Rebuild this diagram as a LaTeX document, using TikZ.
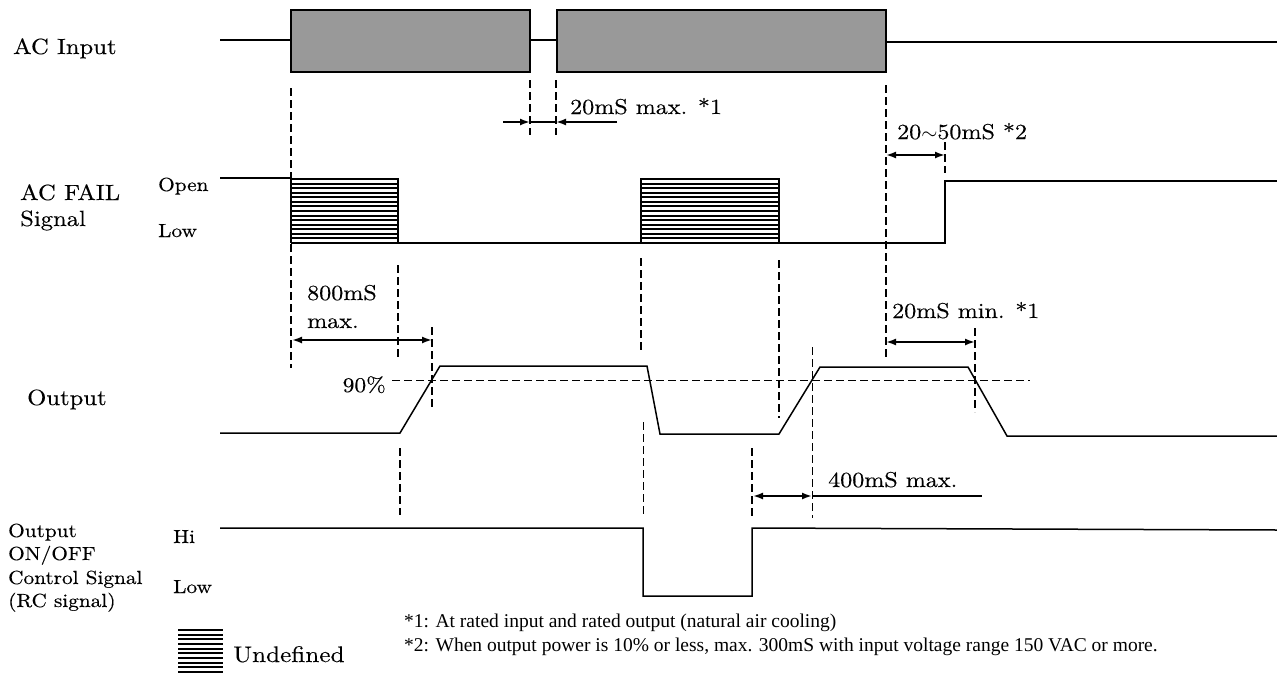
\documentclass[tikz,border=0pt]{standalone}
\usepackage{fontspec}
\newfontfamily\notefont{Liberation Serif}
\newfontfamily\cent{lmroman10-regular}[Extension=.otf, FakeStretch=1.12, FakeBold=0.3]
\usetikzlibrary{arrows.meta}
\begin{document}
\begin{tikzpicture}[x=1pt,y=-1pt,
  >={Latex[length=10pt,width=7pt]},
  wave/.style={line width=1.5pt, line join=miter},
  vdash/.style={line width=1.8pt, dash pattern=on 8pt off 4pt},
  tdash/.style={line width=0.8pt, dash pattern=on 8pt off 4pt},
  dimln/.style={line width=1.8pt},
  hatchln/.style={line width=2pt},
  big/.style={anchor=base west, inner sep=0pt, font=\cent\fontsize{22}{26}\selectfont},
  mid/.style={anchor=base west, inner sep=0pt, font=\cent\fontsize{19}{23}\selectfont},
  tm/.style={anchor=base west, inner sep=0pt, font=\cent\fontsize{21.5}{28}\selectfont},
  note/.style={anchor=base west, inner sep=0pt, font=\notefont\fontsize{19.5}{20}\selectfont},
  acbox/.style={draw=black, line width=1.2pt, fill=black!40},
  ]
\useasboundingbox (0,0) rectangle (1277,675);

% ---------- AC input ----------
\node[big] (lacin) at (13,54) {AC Input};
\draw[wave] (220,40) -- (291,40);
\draw[acbox] (291,10) rectangle (530,72);
\draw[wave] (530,40) -- (557,40);
\draw[acbox] (557,10) rectangle (886,72);
\draw[wave] (886,42) -- (1277,42);

% ---------- AC FAIL ----------
\node[big] (lfail1) at (20,200) {AC FAIL};
\node[big] (lfail2) at (20,226) {Signal};
\node[mid] (lopen) at (158,191) {Open};
\node[mid] (llow1) at (158,237) {Low};
\draw[wave] (220,178) -- (291,178);
\foreach \k in {0,...,14}{
  \draw[hatchln] (291,{179+\k*4.57}) -- (398,{179+\k*4.57});
  \draw[hatchln] (641,{179+\k*4.57}) -- (779,{179+\k*4.57});
}
\draw[wave] (291,178) -- (291,243) (398,178) -- (398,243);
\draw[wave] (641,178) -- (641,243) (779,178) -- (779,243);
\draw[wave] (398,243) -- (641,243);
\draw[wave] (779,243) -- (945,243) -- (945,181) -- (1277,181);

% ---------- Output ----------
\node[big] (lout) at (27,405) {Output};
\draw[wave] (220,433) -- (400,433) -- (440,366) -- (647,366) -- (660,434)
  -- (779,434) -- (820,367) -- (968,367) -- (1007,436) -- (1277,436);
\draw[tdash] (392,380) -- (1030,380);
\node[tm, font=\cent\fontsize{21}{26}\selectfont, anchor=base east] (l90) at (386,392) {90\%};

% ---------- RC signal ----------
\node[mid] (lrc1) at (8,537) {Output};
\node[mid] (lrc2) at (8,560) {ON/OFF};
\node[mid] (lrc3) at (8,584) {Control Signal};
\node[mid] (lrc4) at (8,607) {(RC signal)};
\node[mid] (lhi) at (173,543) {Hi};
\node[mid] (llow2) at (173,593) {Low};
\draw[wave] (220,528) -- (643,528) -- (643,596) -- (752,596) -- (752,528) -- (1277,530);

% ---------- dashed guide lines ----------
\draw[vdash] (291,88) -- (291,368);
\draw[vdash] (530,80) -- (530,135);
\draw[vdash] (556,80) -- (556,135);
\draw[vdash] (886,85) -- (886,360);
\draw[vdash] (945,142) -- (945,173);
\draw[vdash] (398,265) -- (398,360);
\draw[vdash] (641,258) -- (641,353);
\draw[vdash] (779,260) -- (779,418);
\draw[vdash] (432,327) -- (432,408);
\draw[vdash] (975,328) -- (975,412);
\draw[vdash] (400,448) -- (400,515);
\draw[vdash] (752,448) -- (752,517);
\draw[tdash] (812,347) -- (812,518);
\draw[tdash] (643,422) -- (643,517);

% ---------- dimension arrows ----------
\draw[dimln,->] (503,122) -- (530,122);
\draw[dimln] (530,122) -- (556,122);
\draw[dimln,->] (617,122) -- (556,122);
\node[tm] (t20max) at (570,114) {20mS max. *1};

\draw[dimln,<->] (886,155) -- (945,155);
\node[tm] (t2050) at (897,139) {20$\sim$50mS *2};

\draw[dimln,<->] (292,340) -- (432,340);
\node[tm] (t800a) at (307,300) {800mS};
\node[tm] (t800b) at (307,328) {max.};

\draw[dimln,<->] (886,342) -- (975,342);
\node[tm] (t20min) at (892,318) {20mS min. *1};

\draw[dimln,<->] (753,496) -- (812,496);
\draw[line width=1.2pt] (812,496) -- (982,496);
\node[tm] (t400) at (828,487) {400mS max.};

% ---------- legend ----------
\foreach \k in {0,...,9}{
  \draw[hatchln] (178,{630+\k*4.67}) -- (223,{630+\k*4.67});
}
\node[big, font=\cent\fontsize{22.5}{28}\selectfont] (lundef) at (233,662) {Undefined};

% ---------- notes ----------
\node[note] (n1) at (404,627) {*1: At rated input and rated output (natural air cooling)};
\node[note] (n2) at (404,651) {*2: When output power is 10\% or less, max. 300mS with input voltage range 150 VAC or more.};
\end{tikzpicture}
\end{document}
